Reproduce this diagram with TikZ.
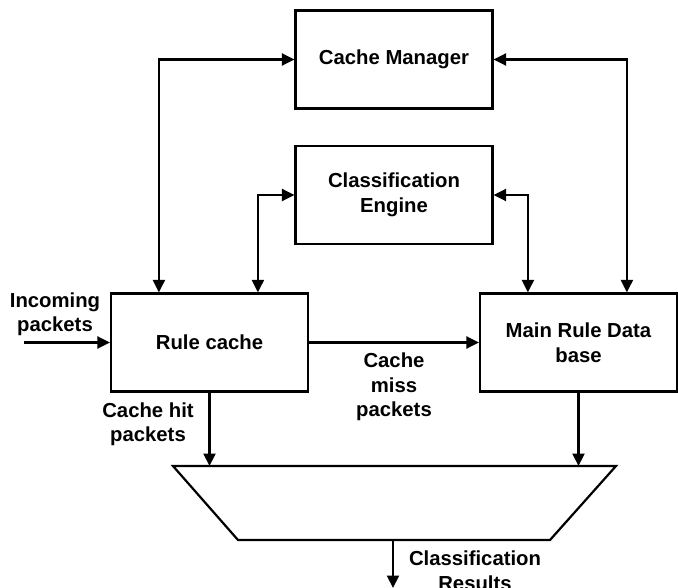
\documentclass[tikz,border=0pt]{standalone}
\usepackage{fontspec}
\setmainfont{Liberation Sans}
\usetikzlibrary{arrows.meta}
\begin{document}
\begin{tikzpicture}[x=1pt,y=-1pt,
  txt/.style={font=\bfseries\fontsize{20.3}{24.5}\selectfont, align=center},
  box/.style={txt, draw, line width=2.2pt, minimum width=197pt, minimum height=98pt, inner sep=0pt},
  lbl/.style={txt, inner sep=0pt},
  conn/.style={line width=2.2pt, -{Triangle[length=12.5pt,width=12pt]}},
  bconn/.style={line width=2.2pt, {Triangle[length=12.5pt,width=12pt]}-{Triangle[length=12.5pt,width=12pt]}},
  shapeline/.style={line width=2.2pt, line join=miter}]
\useasboundingbox (0,0) rectangle (678,588);

% boxes
\node[box] (cm) at (394,59.5) {Cache Manager};
\node[box] (ce) at (394,195) {Classification\\Engine};
\node[box] (rc) at (209.5,342.5) {Rule cache};
\node[box] (db) at (578.5,342.5) {Main Rule Data\\base};

% multiplexer (trapezoid)
\coordinate (mTL) at (173,466);
\coordinate (mTR) at (616,466);
\coordinate (mBR) at (550,540);
\coordinate (mBL) at (238,540);
\draw[shapeline] (mTL) -- (mTR) -- (mBR) -- (mBL) -- cycle;
\coordinate (mtop) at (394,466);
\coordinate (mbot) at (393,540);
\coordinate (out) at (393,588);
\coordinate (in) at (24,342.5);

% connectors
\draw[bconn] (cm.west) -| ([xshift=49pt]rc.north west);
\draw[bconn] (ce.west) -| ([xshift=148pt]rc.north west);
\draw[bconn] (ce.east) -| ([xshift=49pt]db.north west);
\draw[bconn] (cm.east) -| ([xshift=148pt]db.north west);
\draw[conn] (in) -- (rc.west);
\draw[conn] (rc.east) -- (db.west);
\draw[conn] (rc.south) -- (rc.south |- mtop);
\draw[conn] (db.south) -- (db.south |- mtop);
\draw[conn] (mbot) -- (out);

% labels
\node[lbl] (linc) at (55,314.5) {Incoming\\packets};
\node[lbl] (lhit) at (148,424.5) {Cache hit\\packets};
\node[lbl] (lmiss) at (394,387) {Cache\\miss\\packets};
\node[lbl] (lres) at (475,570.5) {Classification\\Results};
\end{tikzpicture}
\end{document}
